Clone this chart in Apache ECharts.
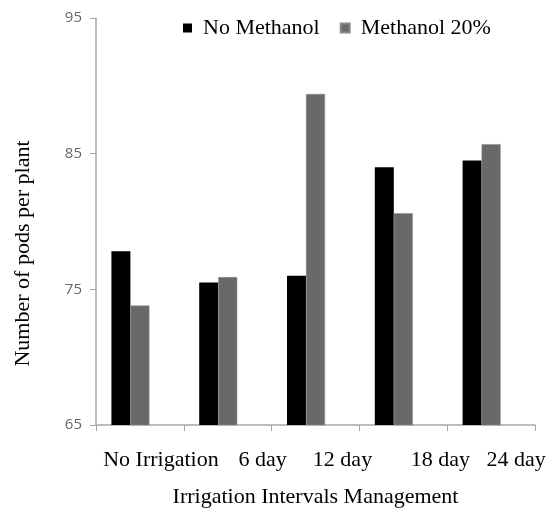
<!DOCTYPE html>
<html><head><meta charset="utf-8">
<script src="https://cdn.jsdelivr.net/npm/echarts@6/dist/echarts.min.js"></script>
<style>html,body{margin:0;padding:0;background:#fff}#c{width:550px;height:508px}</style>
</head><body><div id="c"></div>
<script>
var categories = ['No Irrigation', '6 day', '12 day', '18 day', '24 day'];
var labelShift = [21, 35, 27, 37, 25];
var noMethanol = [77.8, 75.5, 76.0, 84.0, 84.5];
var methanol20 = [73.8, 75.9, 89.4, 80.6, 85.7];
var spacer = [null, null, null, null, null];
var yTicks = [65, 75, 85, 95];

var chart = echarts.init(document.getElementById('c'));
var serif = '"Liberation Serif", "DejaVu Serif", serif';
chart.setOption({
  animation: false,
  backgroundColor: '#fff',
  grid: { left: 96, right: 15, top: 18, bottom: 83, containLabel: false, outerBoundsMode: 'none' },
  legend: {
    top: 12, left: 178,
    itemWidth: 9, itemHeight: 9, itemGap: 20,
    icon: 'rect',
    textStyle: { fontFamily: serif, fontSize: 22, color: '#000', padding: [0, 0, 0, 6] },
    data: ['No Methanol', 'Methanol 20%']
  },
  xAxis: {
    type: 'category',
    data: categories.map(function (c, i) {
      return { value: c, textStyle: { padding: [0, 0, 0, labelShift[i] * 2] } };
    }),
    axisLine: { lineStyle: { color: '#a6a6a6', width: 1.5 } },
    axisTick: { show: true, length: 6, lineStyle: { color: '#a6a6a6' } },
    axisLabel: { interval: 0, margin: 24, fontFamily: serif, fontSize: 22, color: '#000' },
    name: 'Irrigation Intervals Management',
    nameLocation: 'middle', nameGap: 61,
    nameTextStyle: { fontFamily: serif, fontSize: 22, color: '#000' }
  },
  yAxis: {
    type: 'value', min: yTicks[0], max: yTicks[yTicks.length - 1], interval: 10,
    axisLine: { show: true, lineStyle: { color: '#a6a6a6', width: 1.5 } },
    axisTick: { show: true, length: 6, lineStyle: { color: '#a6a6a6' } },
    splitLine: { show: false },
    axisLabel: { margin: 14, fontFamily: '"Open Sans", "Liberation Sans", sans-serif', fontSize: 15, color: '#666' },
    name: 'Number of pods per plant',
    nameLocation: 'middle', nameGap: 62,
    nameTextStyle: { fontFamily: serif, fontSize: 22, color: '#000', padding: [0, 0, 0, -64] }
  },
  series: [
    { name: 'No Methanol', type: 'bar', data: noMethanol, barWidth: 19, barGap: '0%',
      itemStyle: { color: '#000' } },
    { name: 'Methanol 20%', type: 'bar', data: methanol20, barWidth: 19,
      itemStyle: { color: '#696969', borderColor: '#8a8a8a', borderWidth: 0.5 } },
    { name: 'spacer', type: 'bar', data: spacer, barWidth: 19, silent: true,
      itemStyle: { color: 'rgba(0,0,0,0)' } }
  ]
});
</script></body></html>
